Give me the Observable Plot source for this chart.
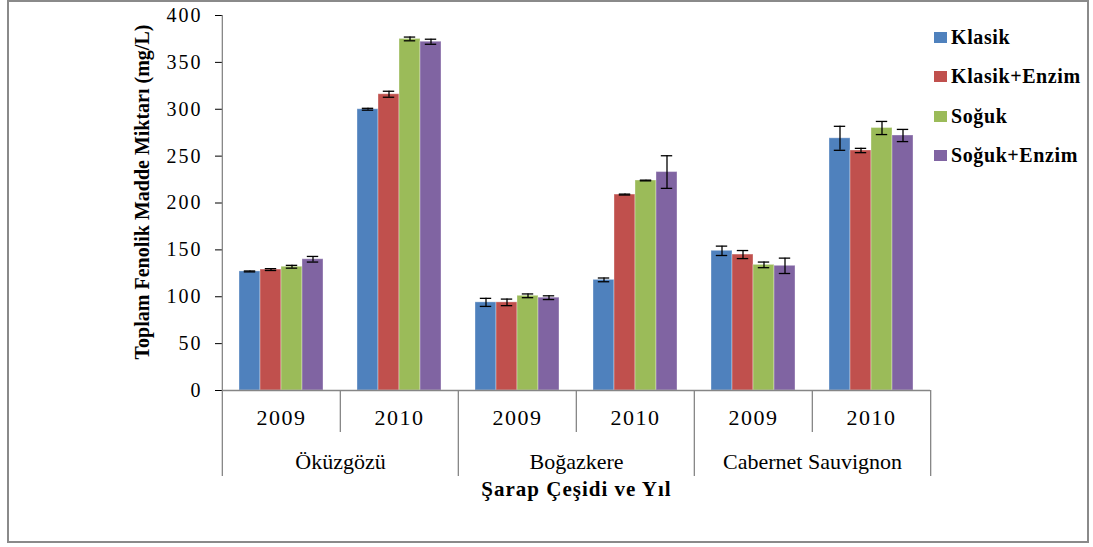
<!DOCTYPE html>
<html>
<head>
<meta charset="utf-8">
<script src="https://cdn.jsdelivr.net/npm/d3@7"></script>
<script src="https://cdn.jsdelivr.net/npm/@observablehq/plot@0.6"></script>
<style>
  body { margin: 0; background: #fff; }
  #wrap { position: relative; width: 1093px; height: 547px; font-family: "Liberation Serif", "Times New Roman", serif; }
  #border { position: absolute; left: 7px; top: 0px; width: 1082px; height: 543px; border: 2px solid #8a8a8a; box-sizing: border-box; pointer-events: none; }
  #legend { position: absolute; left: 934px; top: 18px; font-weight: bold; font-size: 20px; letter-spacing: 0.6px; color: #000; }
  #legend .row { display: flex; align-items: center; height: 39.3px; }
  #legend .sw { width: 13px; height: 11px; margin-right: 4px; }
  #chart svg, #chart svg text { font-family: "Liberation Serif", "Times New Roman", serif !important; }
  svg g[aria-label="y-axis tick"] { stroke: #868686; }
  svg g[aria-label="y-axis tick label"] text { font-size: 20px; letter-spacing: 2px; }
  svg g[aria-label="fx-axis label"] text { font-weight: bold; font-size: 21px; letter-spacing: 1px; }
  svg g[aria-label="fx-axis tick label"] text { font-size: 22px; letter-spacing: 1.5px; }
</style>
</head>
<body>
<div id="wrap">
  <div id="chart"></div>
  <div id="legend"></div>
  <div id="border"></div>
</div>
<script>
const varieties = ["Öküzgözü", "Boğazkere", "Cabernet Sauvignon"];
const years = ["2009", "2010"];
const treatments = ["Klasik", "Klasik+Enzim", "Soğuk", "Soğuk+Enzim"];
const colors = ["#4F81BD", "#C0504D", "#9BBB59", "#8064A2"];
const yTicks = [0, 50, 100, 150, 200, 250, 300, 350, 400];
const yTitle = "Toplam Fenolik Madde Miktarı (mg/L)";
const xTitle = "Şarap Çeşidi ve Yıl";

// group order: Öküzgözü 2009, 2010, Boğazkere 2009, 2010, Cabernet 2009, 2010
const klasik      = [127, 300, 94, 118, 149, 269];
const klasikEnzim = [129, 316, 94, 209, 145, 256];
const soguk       = [132, 375, 101, 224, 134, 280];
const sogukEnzim  = [140, 372, 99, 233, 133, 272];

const klasikErr      = [0.5, 1.0, 4.3, 2.0, 5.0, 12.8];
const klasikEnzimErr = [1.0, 3.2, 3.5, 0.5, 4.3, 2.3];
const sogukErr       = [1.5, 2.0, 2.0, 0.4, 3.0, 7.0];
const sogukEnzimErr  = [3.0, 2.7, 2.0, 17.4, 8.2, 6.5];

const means = [klasik, klasikEnzim, soguk, sogukEnzim];
const errs = [klasikErr, klasikEnzimErr, sogukErr, sogukEnzimErr];

const groups = varieties.flatMap(v => years.map(y => ({variety: v, year: y, key: v + " " + y})));
const keyYear = new Map(groups.map(g => [g.key, g.year]));
const rows = treatments.flatMap((t, ti) => groups.map((g, gi) => ({
  ...g, treatment: t, value: means[ti][gi], err: errs[ti][gi]
})));

const W = 1093, H = 547, ML = 221, MR = 162, MT = 15, MB = 157;
const band = (W - ML - MR) / groups.length;
const grey = "#868686";

const catLeft = groups.filter(g => g.year === years[0]);
const yearLeft = groups.filter(g => g.year !== years[0]);
const firstGroup = [groups[0]];
const lastGroup = [groups[groups.length - 1]];

const chart = Plot.plot({
  width: W, height: H,
  marginLeft: ML, marginRight: MR, marginTop: MT, marginBottom: MB,
  facet: {marginTop: 0, marginBottom: 0, marginLeft: 0, marginRight: 0},
  style: {fontSize: "20px", color: "#000", background: "transparent"},
  fx: {domain: groups.map(g => g.key), padding: 0, axis: "bottom", tickSize: 0, tickPadding: 19,
       tickFormat: k => keyYear.get(k), label: xTitle, labelAnchor: "center", labelOffset: 105},
  x: {domain: treatments, paddingInner: 0, paddingOuter: 0.752, axis: null},
  y: {domain: [0, 400], ticks: yTicks, tickSize: 7, tickPadding: 13, tickFormat: d => String(d), label: null},
  color: {domain: treatments, range: colors},
  marks: [
    Plot.barY(rows, {fx: "key", x: "treatment", y: "value", fill: "treatment", stroke: "#ffffff", strokeOpacity: 0.35, strokeWidth: 1}),
    Plot.ruleX(rows, {fx: "key", x: "treatment", y1: d => d.value - d.err, y2: d => d.value + d.err, stroke: "#000", strokeWidth: 1.3}),
    Plot.tickY(rows, {fx: "key", x: "treatment", y: d => d.value - d.err, stroke: "#000", strokeWidth: 1.3, insetLeft: 4.8, insetRight: 4.8}),
    Plot.tickY(rows, {fx: "key", x: "treatment", y: d => d.value + d.err, stroke: "#000", strokeWidth: 1.3, insetLeft: 4.8, insetRight: 4.8}),
    Plot.ruleY([0], {stroke: grey, strokeWidth: 1.3}),
    // y-axis line
    Plot.ruleX(firstGroup, {fx: "key", x: null, y1: 0, y2: 400, dx: -band / 2, stroke: grey, strokeWidth: 1.3}),
    // category separators (left edge of first year of each variety)
    Plot.ruleX(catLeft, {fx: "key", x: null, y1: 0, y2: 0, dx: -band / 2, insetBottom: -86, stroke: grey, strokeWidth: 1.3}),
    // year separators
    Plot.ruleX(yearLeft, {fx: "key", x: null, y1: 0, y2: 0, dx: -band / 2, insetBottom: -42, stroke: grey, strokeWidth: 1.3}),
    // right end
    Plot.ruleX(lastGroup, {fx: "key", x: null, y1: 0, y2: 0, dx: band / 2, insetBottom: -86, stroke: grey, strokeWidth: 1.3}),
    // variety labels
    Plot.text(catLeft, {fx: "key", text: "variety", frameAnchor: "bottom-right", textAnchor: "middle", dy: 78, fontSize: 22, fill: "#000", style: "letter-spacing:1.5px"}),
    // y-axis title
    Plot.text(firstGroup, {fx: "key", text: () => yTitle, frameAnchor: "left", rotate: -90, textAnchor: "middle", dx: -80, dy: -11, fontSize: 20, fontWeight: "bold", fill: "#000"})
  ]
});
document.getElementById("chart").appendChild(chart);

const legend = document.getElementById("legend");
treatments.forEach((t, i) => {
  const row = document.createElement("div");
  row.className = "row";
  const sw = document.createElement("span");
  sw.className = "sw";
  sw.style.background = colors[i];
  const lab = document.createElement("span");
  lab.textContent = t;
  row.appendChild(sw);
  row.appendChild(lab);
  legend.appendChild(row);
});
</script>
</body>
</html>
